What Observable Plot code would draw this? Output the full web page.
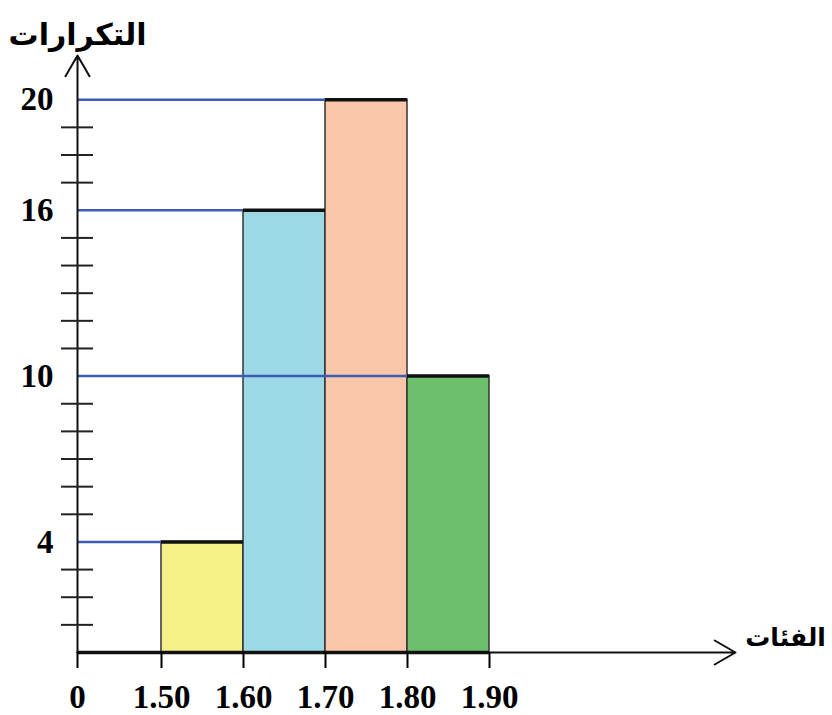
<!DOCTYPE html>
<html><head><meta charset="utf-8">
<script src="https://cdn.jsdelivr.net/npm/d3@7"></script>
<script src="https://cdn.jsdelivr.net/npm/@observablehq/plot@0.6"></script>
<style>body{margin:0;background:#fff}#chart svg{display:block}</style>
</head><body><div id="chart"></div>
<script>
const classStarts = [1.50, 1.60, 1.70, 1.80];
const classEnds = [1.60, 1.70, 1.80, 1.90];
const frequencies = [4, 16, 20, 10];
const barColors = ["#f5f087", "#9cd9e5", "#f9c6aa", "#6cc06b"];
const xTickValues = [0, 1.50, 1.60, 1.70, 1.80, 1.90];
const xTickLabels = ["0", "1.50", "1.60", "1.70", "1.80", "1.90"];
const yTickValues = [4, 10, 16, 20];
const yMinorTicks = [1, 2, 3, 5, 6, 7, 8, 9, 11, 12, 13, 14, 15, 17, 18, 19];
const yTitle = "التكرارات";
const xTitle = "الفئات";
const xAxisEnd = 2.2;   // extent of the x arrow (broken axis)
const yAxisEnd = 21.6;  // extent of the y arrow

const bars = classStarts.map((s, i) => ({x1: s, x2: classEnds[i], y: frequencies[i], color: barColors[i]}));

const serif = "Liberation Serif, Times New Roman, serif";
const arabic = "Liberation Serif, DejaVu Sans, sans-serif";

const chart = Plot.plot({
  width: 832,
  height: 715,
  marginLeft: 77,
  marginRight: 97,
  marginTop: 55,
  marginBottom: 63,
  x: {type: "linear", domain: [0, 1.5, xAxisEnd], range: [77, 161, 735]},
  y: {domain: [0, yAxisEnd]},
  color: {type: "identity"},
  style: {color: "black", background: "white"},
  marks: [
    Plot.rect(bars, {x1: "x1", x2: "x2", y1: 0, y2: "y", fill: "color", stroke: "#333", strokeWidth: 1.5}),
    Plot.ruleY(bars, {y: "y", x1: 0, x2: "x1", stroke: "#3b5bb5", strokeWidth: 2.5}),
    Plot.ruleY(bars, {y: "y", x1: "x1", x2: "x2", stroke: "#111", strokeWidth: 3.5}),
    Plot.ruleY([0], {x1: 0, x2: classEnds[classEnds.length - 1], stroke: "#111", strokeWidth: 3.5}),
    Plot.arrow([0], {x1: 0, y1: 0, x2: xAxisEnd, y2: 0, stroke: "#111", strokeWidth: 2, headLength: 18, bend: 0}),
    Plot.arrow([0], {x1: 0, y1: 0, x2: 0, y2: yAxisEnd, stroke: "#111", strokeWidth: 2, headLength: 18, bend: 0}),
    Plot.axisX(xTickValues, {
      anchor: "bottom", tickSize: 16, strokeWidth: 2, tickPadding: 16,
      tickFormat: d => xTickLabels[xTickValues.indexOf(d)],
      fontSize: 33, fontWeight: "bold", fontFamily: serif, label: null
    }),
    Plot.axisY(yTickValues, {
      anchor: "left", tickSize: 0, tickPadding: 24,
      fontSize: 33, fontWeight: "bold", fontFamily: serif, label: null
    }),
    Plot.axisY(yMinorTicks, {
      anchor: "left", tickSize: 32, dx: 16, strokeWidth: 2, stroke: "#222",
      tickFormat: () => "", label: null
    }),
    Plot.text([yTitle], {frameAnchor: "top-left", text: d => d, dy: -32, textAnchor: "middle",
      fontSize: 30, fontWeight: "bold", fontFamily: arabic}),
    Plot.text([xTitle], {frameAnchor: "bottom-right", text: d => d, dx: 50, dy: -7, textAnchor: "middle",
      fontSize: 25, fontWeight: "bold", fontFamily: arabic})
  ]
});
document.getElementById("chart").append(chart);
</script>
</body></html>
